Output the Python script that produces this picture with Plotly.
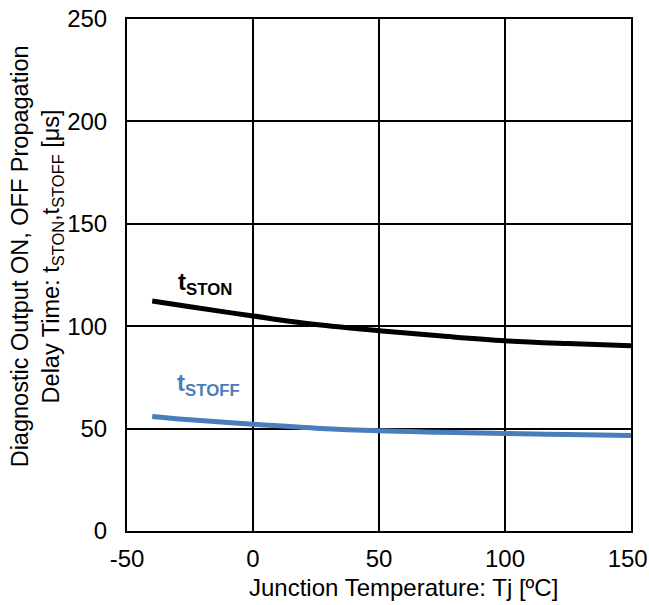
import plotly.graph_objects as go

temps = [-40, -25, 0, 25, 50, 75, 100, 125, 150]
t_ston = [112.3, 109.5, 105.0, 100.8, 97.8, 95.2, 92.9, 91.5, 90.4]
t_stoff = [55.9, 54.3, 52.1, 50.2, 48.9, 48.2, 47.6, 47.1, 46.6]
x_ticks = [-50, 0, 50, 100, 150]
x_tick_labels = ["-50", "0", "50", "100", "150\u00a0"]
y_ticks = [0, 50, 100, 150, 200, 250]

FONT = "Liberation Sans, Arial, sans-serif"
BLUE = "#4A7EBB"

fig = go.Figure()
fig.add_trace(go.Scatter(x=temps, y=t_ston, mode="lines", line=dict(color="black", width=5, shape="spline"), showlegend=False))
fig.add_trace(go.Scatter(x=temps, y=t_stoff, mode="lines", line=dict(color=BLUE, width=5, shape="spline"), showlegend=False))

fig.add_annotation(x=-19, y=121, xref="x", yref="y", text="<b>t<sub>STON</sub></b>", showarrow=False,
                   font=dict(family=FONT, size=24, color="black"))
fig.add_annotation(x=-17.5, y=71.5, xref="x", yref="y", text="<b>t<sub>STOFF</sub></b>", showarrow=False,
                   font=dict(family=FONT, size=24, color=BLUE))

fig.add_annotation(x=0.548, y=-0.111, xref="paper", yref="paper", text="Junction Temperature: Tj [ºC]",
                   showarrow=False, font=dict(family=FONT, size=24, color="black"), yanchor="middle")
fig.add_annotation(x=-0.18, y=0.537, xref="paper", yref="paper",
                   text="Diagnostic Output ON, OFF Propagation<br>Delay Time: t<sub>STON</sub>,t<sub>STOFF</sub> [μs]",
                   showarrow=False, textangle=-90, font=dict(family=FONT, size=23.5, color="black"),
                   xanchor="center", yanchor="middle")

fig.update_xaxes(range=[-50, 150], tickmode="array", tickvals=x_ticks, ticktext=x_tick_labels,
                 showgrid=True, gridcolor="black", gridwidth=2, automargin=False,
                 showline=True, linecolor="black", linewidth=2, mirror=True, zeroline=False, ticks="",
                 ticklabelstandoff=5, ticklabeloverflow="allow",
                 tickfont=dict(family=FONT, size=24, color="black"))
fig.update_yaxes(range=[0, 250], tickvals=y_ticks, showgrid=True, gridcolor="black", gridwidth=2,
                 automargin=False,
                 showline=True, linecolor="black", linewidth=2, mirror=True, zeroline=False, ticks="",
                 ticklabelstandoff=13, ticklabeloverflow="allow",
                 tickfont=dict(family=FONT, size=24, color="black"))

fig.update_layout(width=649, height=605, margin=dict(l=127, r=18, t=19, b=74, autoexpand=False),
                  plot_bgcolor="white", paper_bgcolor="white", font=dict(family=FONT))

fig.write_html("out.html", config={"displayModeBar": False, "staticPlot": True},
               post_script="document.body.style.margin='0';document.body.style.overflow='hidden';")
